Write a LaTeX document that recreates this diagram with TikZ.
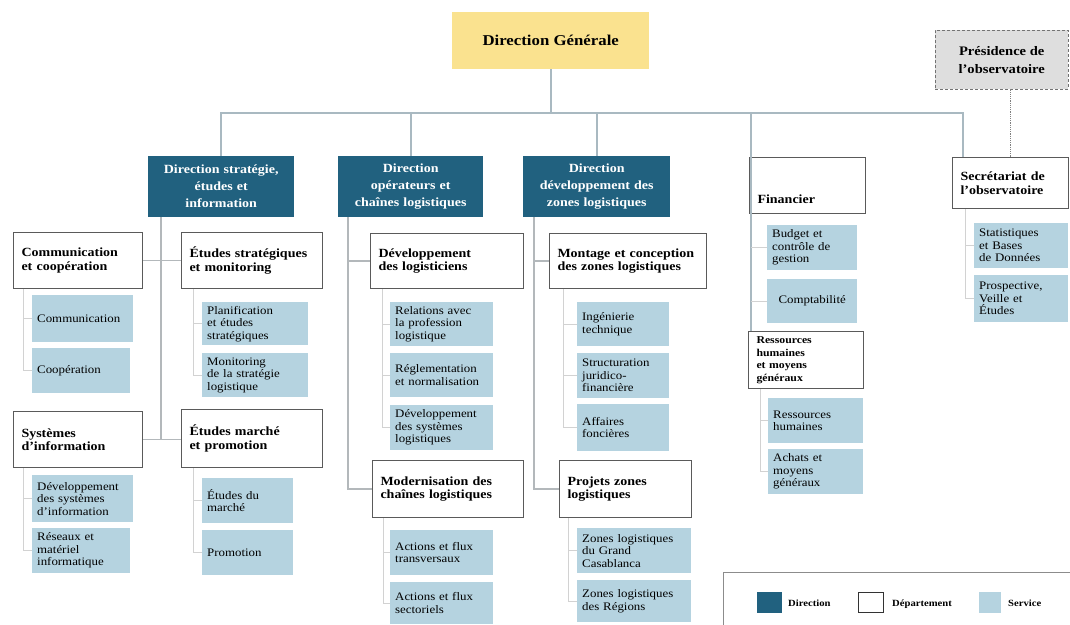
\documentclass[tikz,border=0pt]{standalone}
\usepackage{fontspec}
\setmainfont[FakeStretch=1.12]{Liberation Serif}

\definecolor{dirblue}{HTML}{21617F}
\definecolor{svcblue}{HTML}{B5D3E0}
\definecolor{dgyellow}{HTML}{FAE28F}
\definecolor{presgrey}{HTML}{DEDEDE}
\definecolor{busgrey}{HTML}{A9B9C1}
\definecolor{colgrey}{HTML}{B3B8BB}
\definecolor{tickgrey}{HTML}{D2D2D2}
\definecolor{deptline}{HTML}{5A5A5A}

\begin{document}
\begin{tikzpicture}[
  x=1pt, y=-1pt,
  gen/.style={fill=dgyellow, anchor=north west, align=center,
    font=\bfseries\fontsize{15}{17}\selectfont},
  pres/.style={fill=presgrey, draw=black!55, densely dashed, anchor=north west,
    align=center, font=\bfseries\fontsize{13}{18}\selectfont},
  dirbox/.style 2 args={fill=dirblue, text=white, anchor=north west, align=center,
    inner sep=0pt, text width=#1pt, minimum height=#2pt,
    font=\bfseries\fontsize{12.5}{17}\selectfont},
  dept/.style 2 args={draw=deptline, line width=1pt, fill=white, anchor=north west,
    align=left, inner xsep=8pt, text width=#1pt-16pt, minimum width=#1pt,
    minimum height=#2pt, font=\bfseries\fontsize{12.5}{13.5}\selectfont},
  svc/.style 2 args={fill=svcblue, anchor=north west, align=left, inner xsep=5pt,
    inner ysep=0pt, text width=#1pt-10pt, minimum height=#2pt,
    font=\fontsize{11.5}{12.5}\selectfont},
  keytext/.style={anchor=base west, inner sep=0pt, font=\bfseries\fontsize{9.5}{11}\selectfont},
  busline/.style={busgrey, line width=2pt},
  colline/.style={colgrey, line width=1.5pt},
  svcline/.style={tickgrey, line width=1pt},
]
  \useasboundingbox (0,0) rectangle (1070,624);
  \clip (0,0) rectangle (1070,624);

  % top level
  \node[gen, minimum width=197pt, minimum height=57pt] (DG) at (452,12) {Direction Générale};
  \node[pres, minimum width=133pt, minimum height=59pt] (Pres) at (935,30) {Présidence de\\l'observatoire};

  % directions
  \node[dirbox={146}{61}] (Dstrat) at (148,156) {Direction stratégie,\\études et\\information};
  \node[dirbox={145}{61}] (Dop) at (338,156) {Direction\\opérateurs et\\chaînes logistiques};
  \node[dirbox={147}{61}] (Ddev) at (523,156) {Direction\\développement des\\zones logistiques};

  % departments
  \node[dept={116}{56}, text height=36pt] (Fin) at (749,157) {Financier};
  \node[dept={116}{51}] (Secr) at (952,157) {Secrétariat de\\l'observatoire};
  \node[dept={129}{56}] (Comm) at (13,232) {Communication\\et coopération};
  \node[dept={141}{56}] (Etstr) at (181,232) {Études stratégiques\\et monitoring};
  \node[dept={129}{56}] (Sys) at (13,411) {Systèmes\\d'information};
  \node[dept={141}{58}] (Etmar) at (181,409) {Études marché\\et promotion};
  \node[dept={153}{55}] (Dlog) at (370,233) {Développement\\des logisticiens};
  \node[dept={151}{57}] (Mod) at (372,460) {Modernisation des\\chaînes logistiques};
  \node[dept={157}{55}, inner xsep=7pt] (Mont) at (549,233) {Montage et conception\\des zones logistiques};
  \node[dept={132}{57}] (Proj) at (559,460) {Projets zones\\logistiques};
  \node[dept={115}{57}, inner xsep=3pt, inner ysep=1pt,
    font=\bfseries\fontsize{10.5}{12.5}\selectfont] (Res) at (748,331) {Ressources\\humaines\\et moyens\\généraux};

  % services
  \node[svc={101}{47}] (sCom) at (32,295) {Communication};
  \node[svc={98}{45}] (sCoop) at (32,348) {Coopération};
  \node[svc={106}{43}] (sPlan) at (202,302) {Planification\\et études\\stratégiques};
  \node[svc={106}{44}] (sMon) at (202,353) {Monitoring\\de la stratégie\\logistique};
  \node[svc={101}{47}] (sDsi) at (32,475) {Développement\\des systèmes\\d'information};
  \node[svc={98}{45}] (sRes) at (32,528) {Réseaux et\\matériel\\informatique};
  \node[svc={91}{45}] (sEtm) at (202,478) {Études du\\marché};
  \node[svc={91}{45}] (sProm) at (202,530) {Promotion};
  \node[svc={103}{44}] (sRel) at (390,302) {Relations avec\\la profession\\logistique};
  \node[svc={103}{44}] (sRegl) at (390,353) {Réglementation\\et normalisation};
  \node[svc={103}{45}] (sDsl) at (390,405) {Développement\\des systèmes\\logistiques};
  \node[svc={103}{45}] (sAct1) at (390,530) {Actions et flux\\transversaux};
  \node[svc={103}{42}] (sAct2) at (390,582) {Actions et flux\\sectoriels};
  \node[svc={92}{44}] (sIng) at (577,302) {Ingénierie\\technique};
  \node[svc={92}{45}] (sStruc) at (577,353) {Structuration\\juridico-\\financière};
  \node[svc={92}{47}] (sAff) at (577,404) {Affaires\\foncières};
  \node[svc={114}{45}] (sZgc) at (577,528) {Zones logistiques\\du Grand\\Casablanca};
  \node[svc={114}{42}] (sZr) at (577,580) {Zones logistiques\\des Régions};
  \node[svc={90}{45}] (sBud) at (767,225) {Budget et\\contrôle de\\gestion};
  \node[svc={90}{44}, align=center] (sCpt) at (767,279) {Comptabilité};
  \node[svc={95}{45}] (sRh) at (768,398) {Ressources\\humaines};
  \node[svc={95}{45}] (sAch) at (768,449) {Achats et\\moyens\\généraux};
  \node[svc={94}{45}] (sStat) at (974,223) {Statistiques\\et Bases\\de Données};
  \node[svc={94}{47}] (sPros) at (974,275) {Prospective,\\Veille et\\Études};

  % main lines
  \coordinate (bus) at (0,113);
  \coordinate (secrtop) at ([xshift=11pt]Secr.north west);
  \coordinate (fincol) at ([xshift=2pt]Fin.north west);
  \draw[busline] (DG.south) -- (DG.south |- bus);
  \draw[busline] (Dstrat.north) |- (secrtop |- bus) -- (secrtop);
  \draw[busline] (Dop.north) -- (Dop.north |- bus);
  \draw[busline] (Ddev.north) -- (Ddev.north |- bus);
  \draw[busline] (fincol |- bus) -- (fincol |- Res.north);
  \draw[black!50, line width=1.2pt, densely dotted] ([xshift=9pt]Pres.south) -- ([xshift=9pt]Pres.south |- Secr.north);

  % columns under the directions
  \coordinate (c1) at ([xshift=13pt]Dstrat.south west);
  \coordinate (c2) at ([xshift=10pt]Dop.south west);
  \coordinate (c3) at ([xshift=11pt]Ddev.south west);
  \draw[colline] (c1) -- (c1 |- Sys.east);
  \draw[colline] (Comm.east) -- (Etstr.west);
  \draw[colline] (Sys.east) -- (Sys.east -| Etmar.west);
  \draw[colline] (c2) |- (Mod.west);
  \draw[colline] (c2 |- Dlog.west) -- (Dlog.west);
  \draw[colline] (c3) |- (Proj.west);
  \draw[colline] (c3 |- Mont.west) -- (Mont.west);

  % service links
  \coordinate (sp1) at ([xshift=10pt]Comm.south west);
  \coordinate (sp2) at ([xshift=12pt]Etstr.south west);
  \coordinate (sp3) at ([xshift=10pt]Sys.south west);
  \coordinate (sp4) at ([xshift=12pt]Etmar.south west);
  \coordinate (sp5) at ([xshift=12pt]Dlog.south west);
  \coordinate (sp6) at ([xshift=11pt]Mod.south west);
  \coordinate (sp7) at ([xshift=14pt]Mont.south west);
  \coordinate (sp8) at ([xshift=9pt]Proj.south west);
  \coordinate (sp9) at ([xshift=12pt]Res.south west);
  \coordinate (sp10) at ([xshift=13pt]Secr.south west);
  \draw[svcline] (sp1) |- (sCoop.west);  \draw[svcline] (sp1 |- sCom.west) -- (sCom.west);
  \draw[svcline] (sp2) |- (sMon.west);   \draw[svcline] (sp2 |- sPlan.west) -- (sPlan.west);
  \draw[svcline] (sp3) |- (sRes.west);   \draw[svcline] (sp3 |- sDsi.west) -- (sDsi.west);
  \draw[svcline] (sp4) |- (sProm.west);  \draw[svcline] (sp4 |- sEtm.west) -- (sEtm.west);
  \draw[svcline] (sp5) |- (sDsl.west);
  \draw[svcline] (sp5 |- sRel.west) -- (sRel.west);
  \draw[svcline] (sp5 |- sRegl.west) -- (sRegl.west);
  \draw[svcline] (sp6) |- (sAct2.west);  \draw[svcline] (sp6 |- sAct1.west) -- (sAct1.west);
  \draw[svcline] (sp7) |- (sAff.west);
  \draw[svcline] (sp7 |- sIng.west) -- (sIng.west);
  \draw[svcline] (sp7 |- sStruc.west) -- (sStruc.west);
  \draw[svcline] (sp8) |- (sZr.west);    \draw[svcline] (sp8 |- sZgc.west) -- (sZgc.west);
  \draw[svcline] (fincol |- sBud.west) -- (sBud.west);
  \draw[svcline] (fincol |- sCpt.west) -- (sCpt.west);
  \draw[svcline] (sp9) |- (sAch.west);   \draw[svcline] (sp9 |- sRh.west) -- (sRh.west);
  \draw[svcline] (sp10) |- (sPros.west); \draw[svcline] (sp10 |- sStat.west) -- (sStat.west);

  % legend
  \node[draw=black!45, anchor=north west, minimum width=350pt, minimum height=60pt] (legend) at (723,572) {};
  \node[fill=dirblue, anchor=north west, inner sep=0pt, minimum width=25pt, minimum height=21pt] (kDir) at (757,592) {};
  \node[draw=black!80, line width=1pt, fill=white, anchor=north west, inner sep=0pt,
    minimum width=25pt, minimum height=20pt] (kDep) at (858,592) {};
  \node[fill=svcblue, anchor=north west, inner sep=0pt, minimum width=22pt, minimum height=21pt] (kSvc) at (979,592) {};
  \node[keytext] (kDirT) at (788,606) {Direction};
  \node[keytext] (kDepT) at (892,606) {Département};
  \node[keytext] (kSvcT) at (1008,606) {Service};
\end{tikzpicture}
\end{document}
